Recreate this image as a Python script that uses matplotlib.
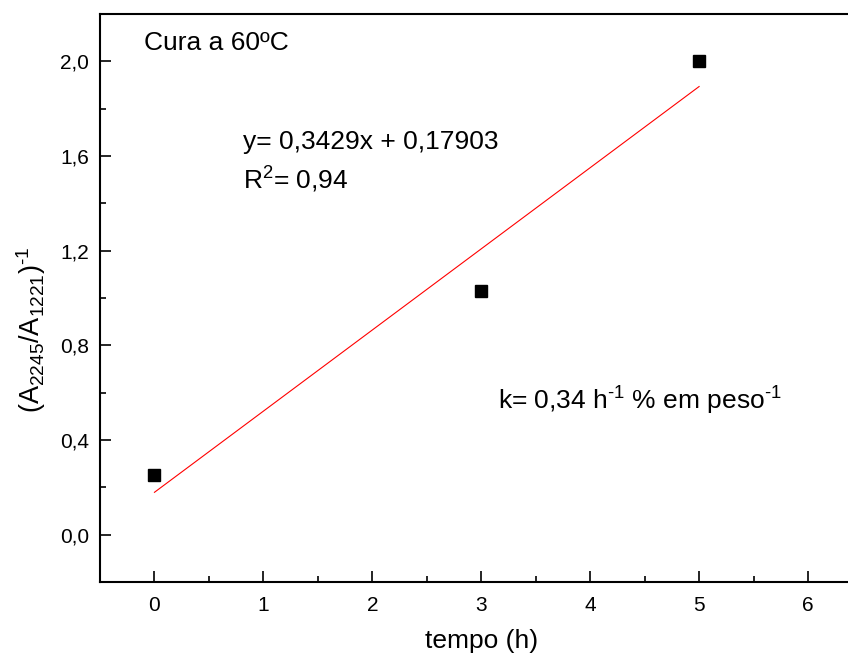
import matplotlib
matplotlib.use("Agg")
import matplotlib.pyplot as plt
import numpy as np
from matplotlib.ticker import MultipleLocator, FuncFormatter

plt.rcParams['font.family'] = ['Liberation Sans', 'DejaVu Sans']
plt.rcParams['mathtext.fontset'] = 'custom'
plt.rcParams['mathtext.rm'] = 'Liberation Sans'
plt.rcParams['mathtext.it'] = 'Liberation Sans:italic'
plt.rcParams['mathtext.bf'] = 'Liberation Sans:bold'
plt.rcParams['xtick.labelsize'] = 15
plt.rcParams['ytick.labelsize'] = 15

# data
tempo = [0, 3, 5]
ratio_inv = [0.25, 1.03, 2.0]
slope = 0.3429
intercept = 0.17903
fit_x = [0, 5]

fig = plt.figure(figsize=(8.48, 6.61), dpi=100)
W, H = 848, 661
left_px, right_px, top_px, bottom_px = 100, 862.5, 14, 582
ax = fig.add_axes([left_px / W, (H - bottom_px) / H,
                   (right_px - left_px) / W, (bottom_px - top_px) / H])

fx = np.array(fit_x, dtype=float)
ax.plot(fx, slope * fx + intercept, color='red', lw=0.8)
ax.plot(tempo, ratio_inv, 's', color='black', markersize=8.5, linestyle='none')

ax.set_xlim(-0.5, 6.5)
ax.set_ylim(-0.2, 2.2)
ax.xaxis.set_major_locator(MultipleLocator(1))
ax.xaxis.set_minor_locator(MultipleLocator(0.5))
ax.yaxis.set_major_locator(MultipleLocator(0.4))
ax.yaxis.set_minor_locator(MultipleLocator(0.2))
ax.yaxis.set_major_formatter(FuncFormatter(lambda v, p: f"{v:.1f}".replace('.', ',').replace('-0,0', '0,0')))

for s in ax.spines.values():
    s.set_linewidth(1.5)
ax.tick_params(which='major', direction='in', top=False, right=False, width=1.2,
               length=8)
ax.tick_params(which='minor', direction='in', top=False, right=False, width=1.2,
               length=4)
ax.tick_params(axis='x', which='major', pad=10)
ax.tick_params(axis='y', which='major', pad=8)

HY = '\u2010'
ax.set_xlabel('tempo (h)', fontsize=19, labelpad=10)
ax.set_ylabel(r'(A$_{\mathregular{2245}}$/A$_{\mathregular{1221}}$)$^{\mathregular{' + HY + r'1}}$', fontsize=19.5)
ax.yaxis.set_label_coords(-0.068, 0.445)

ax.text(-0.1, 2.076, 'Cura a 60ºC', fontsize=19, va='center', ha='left')
ax.text(0.817, 1.658, 'y= 0,3429x + 0,17903', fontsize=19, va='center', ha='left')
ax.text(0.817, 1.498, r'R$^{\mathregular{2}}$= 0,94', fontsize=19, va='center', ha='left')
ax.text(3.156, 0.565, r'k= 0,34 h$^{\mathregular{' + HY + r'1}}$ % em peso$^{\mathregular{' + HY + r'1}}$', fontsize=19, va='center', ha='left')

fig.savefig('out.png', dpi=100)
